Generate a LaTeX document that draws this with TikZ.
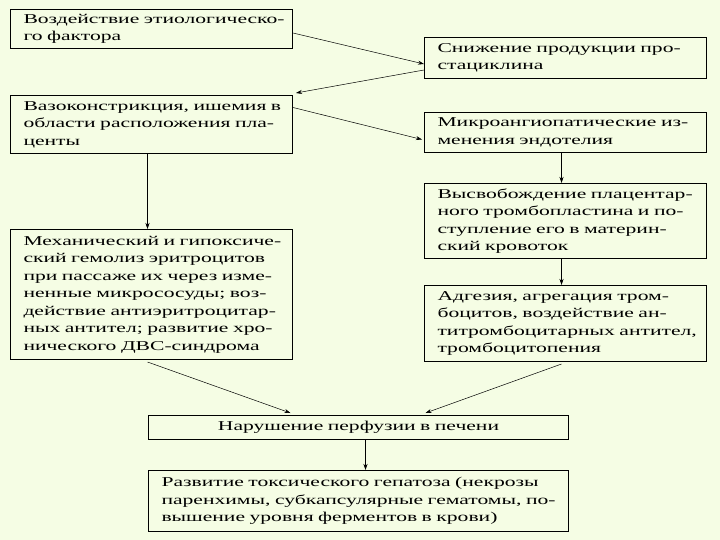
\documentclass[tikz,border=0pt]{standalone}
\usepackage{fontspec}
\setmainfont{Liberation Serif}[FakeStretch=1.6]
\usepackage{xcolor}
\usetikzlibrary{arrows.meta,positioning}

\definecolor{slidebg}{RGB}{245,253,228}
% one justified line of a box
\newcommand{\fullline}[1]{\makebox[\linewidth][s]{#1}}

\begin{document}
\begin{tikzpicture}[
    x=1pt, y=1pt,
    box/.style={draw, line width=1pt, fill=slidebg, align=left, anchor=north west,
                inner xsep=13pt, inner ysep=4pt, text width=256pt,
                font=\fontsize{13.5}{17.5}\selectfont},
    widebox/.style={box, text width=394pt},
    arrow/.style={-{Stealth[length=6pt,width=4pt]}, line width=0.5pt},
    thickarrow/.style={-{Stealth[length=6pt,width=4pt]}, line width=1.6pt}
]
\fill[slidebg] (0,0) rectangle (720,-540);
\useasboundingbox (0,0) rectangle (720,-540);

% left column
\node[box, minimum height=39pt] (factor) at (10,-9)
    {\fullline{Воздействие этиологическо-}\\го фактора};
\node[box, minimum height=58pt] (spasm) at (10,-95)
    {\fullline{Вазоконстрикция, ишемия в}\\\fullline{области расположения пла-}\\центы};
\node[box, minimum height=130pt] (hemolysis) at (10,-229)
    {\fullline{Механический и гипоксиче-}\\\fullline{ский гемолиз эритроцитов}\\
     \fullline{при пассаже их через изме-}\\\fullline{ненные микрососуды; воз-}\\
     \fullline{действие антиэритроцитар-}\\\fullline{ных антител; развитие хро-}\\
     нического ДВС-синдрома};

% right column
\node[box, minimum height=41pt] (prost) at (424,-37)
    {\fullline{Снижение продукции про-}\\стациклина};
\node[box, minimum height=40pt] (endo) at (424,-112)
    {\fullline{Микроангиопатические из-}\\менения эндотелия};
\node[box, minimum height=75pt] (release) at (424,-183)
    {\fullline{Высвобождение плацентар-}\\\fullline{ного тромбопластина и по-}\\
     \fullline{ступление его в материн-}\\ский кровоток};
\node[box, minimum height=76pt] (platelets) at (424,-285)
    {\fullline{Адгезия, агрегация тром-}\\\fullline{боцитов, воздействие ан-}\\
     \fullline{титромбоцитарных антител,}\\тромбоцитопения};

% bottom
\node[widebox, align=center, minimum height=24pt] (perfusion) at (148,-415)
    {Нарушение перфузии в печени};
\node[widebox, minimum height=61pt] (hepatosis) at (148,-470)
    {\fullline{Развитие токсического гепатоза (некрозы}\\
     \fullline{паренхимы, субкапсулярные гематомы, по-}\\
     вышение уровня ферментов в крови)};

\draw[arrow] ([yshift=-4pt]factor.east) -- ([yshift=-6pt]prost.west);
\draw[arrow] ([yshift=-12pt]prost.west) -- ([xshift=3pt,yshift=2pt]spasm.north east);
\draw[arrow] ([yshift=17pt]spasm.east) -- ([xshift=-2pt,yshift=-7pt]endo.west);
\draw[arrow] ([xshift=-4pt]spasm.south) -- ([xshift=-4pt]hemolysis.north);
\draw[arrow] ([xshift=-4pt]endo.south) -- ([xshift=-4pt]release.north);
\draw[arrow] ([xshift=-4pt]release.south) -- ([xshift=-4pt]platelets.north);
\draw[arrow] ([xshift=-4pt,yshift=-2pt]hemolysis.south) -- ([xshift=-68pt,yshift=2pt]perfusion.north);
\draw[arrow] ([xshift=-4pt,yshift=-2pt]platelets.south) -- ([xshift=67pt,yshift=2pt]perfusion.north);
\draw[thickarrow] ([xshift=7pt]perfusion.south) -- ([xshift=7pt]hepatosis.north);
\end{tikzpicture}
\end{document}
